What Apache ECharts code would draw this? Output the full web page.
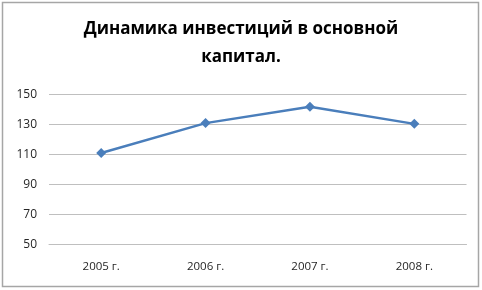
<!DOCTYPE html>
<html><head><meta charset="utf-8">
<script src="https://cdn.jsdelivr.net/npm/echarts@6/dist/echarts.min.js"></script>
<style>html,body{margin:0;padding:0;background:#fff}#c{width:482px;height:290px}</style>
</head><body><div id="c"></div>
<script>
var titleText = 'Динамика инвестиций в основной\nкапитал.';
var categories = ['2005 г.', '2006 г.', '2007 г.', '2008 г.'];
var values = [111, 131, 142, 130.5];
var yTicks = [50, 70, 90, 110, 130, 150];

var chart = echarts.init(document.getElementById('c'));
chart.setOption({
  animation: false,
  backgroundColor: '#fff',
  graphic: [{type: 'rect', shape: {x: 2.5, y: 2.5, width: 476, height: 284}, style: {fill: 'none', stroke: '#a6a6a6', lineWidth: 1.5}}],
  title: {
    text: titleText, left: 'center', top: 10,
    textStyle: {fontFamily: 'Open Sans', fontWeight: 'bold', fontSize: 17, lineHeight: 28, color: '#000'}
  },
  grid: {left: 49, right: 15.5, top: 94.7, bottom: 45.7, containLabel: false},
  xAxis: {
    type: 'category', data: categories, boundaryGap: true,
    axisLine: {show: true, lineStyle: {color: '#bfbfbf', width: 1}},
    axisTick: {show: false},
    axisLabel: {margin: 16, fontFamily: 'Open Sans', fontSize: 11.5, color: '#262626'}
  },
  yAxis: {
    type: 'value', min: yTicks[0], max: yTicks[yTicks.length - 1], interval: 20,
    axisLine: {show: false}, axisTick: {show: false},
    splitLine: {lineStyle: {color: '#bfbfbf', width: 1}},
    axisLabel: {margin: 12, fontFamily: 'Open Sans', fontSize: 12, color: '#262626'}
  },
  series: [{
    type: 'line', data: values, symbol: 'diamond', symbolSize: 10,
    lineStyle: {color: '#4a7ebb', width: 2.5},
    itemStyle: {color: '#4a7ebb'}
  }]
});
</script></body></html>
